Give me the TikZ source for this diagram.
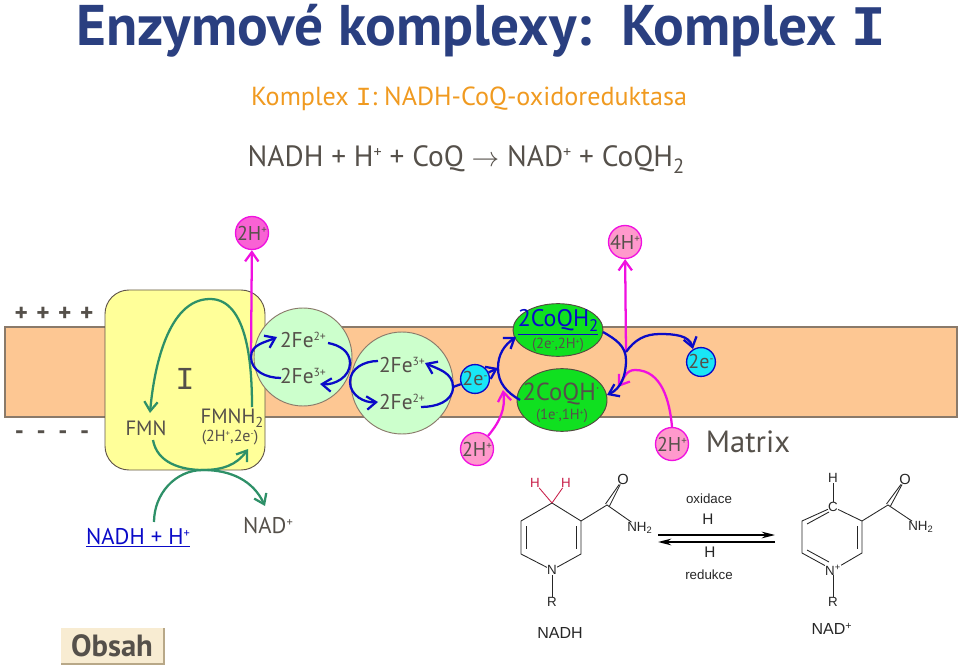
\documentclass[tikz,border=0pt]{standalone}
\usepackage{fontspec}
\setmainfont{PT Sans}
\newfontfamily\chemfont{Liberation Sans}
\newfontfamily\slabfont{Liberation Mono}
\usetikzlibrary{arrows.meta,shapes.geometric}
\newcommand{\ionup}[1]{\raisebox{.62ex}{\scalebox{.55}{#1}}}
\newcommand{\ionlow}[1]{\raisebox{-.45ex}{\scalebox{.7}{#1}}}
\definecolor{bandcol}{HTML}{FDC793}
\definecolor{bandline}{HTML}{8A7A6A}
\definecolor{boxcol}{HTML}{FFFF99}
\definecolor{fecol}{HTML}{CCFFCC}
\definecolor{inkcol}{HTML}{55504A}
\definecolor{titlecol}{HTML}{2A3F80}
\definecolor{orangecol}{HTML}{F09A20}
\definecolor{pathgreen}{HTML}{2E9068}
\definecolor{pathblue}{HTML}{0A0AC8}
\definecolor{pathpink}{HTML}{F010E0}
\definecolor{coqcol}{HTML}{10E020}
\definecolor{pinkcol}{HTML}{FF99CC}
\definecolor{cyancol}{HTML}{19E6F5}
\definecolor{hred}{HTML}{C8204A}
\definecolor{btncol}{HTML}{F8ECD2}
\definecolor{btnedge}{HTML}{B8A888}
\tikzset{
  ink/.style={text=inkcol,inner sep=0pt},
  protonnode/.style={circle,draw=pathpink,fill=pinkcol,line width=1pt,minimum size=22.5pt,inner sep=0pt,text=inkcol,font=\fontsize{15}{15}\selectfont},
  electronnode/.style={circle,draw=pathblue,fill=cyancol,line width=1pt,minimum size=21pt,inner sep=0pt,text=inkcol,font=\fontsize{15}{15}\selectfont},
  fenode/.style={circle,draw=bandline,fill=fecol,line width=.7pt,inner sep=0pt},
  coqnode/.style={ellipse,draw=bandline!60!black,fill=coqcol,line width=.7pt,inner sep=0pt},
  fetext/.style={ink,font=\fontsize{16}{16}\selectfont},
  greenpath/.style={draw=pathgreen,line width=1.7pt,-{Straight Barb[length=7pt,width=10pt,line width=1.7pt]}},
  bluepath/.style={draw=pathblue,line width=1.7pt,-{Straight Barb[length=7pt,width=10pt,line width=1.7pt]}},
  pinkpath/.style={draw=pathpink,line width=1.7pt,-{Straight Barb[length=7pt,width=10pt,line width=1.7pt]}},
  bond/.style={draw=black!85,line width=.65pt},
  chem/.style={font=\chemfont\fontsize{10}{10}\selectfont,inner sep=0pt,text=black!85}
}
\begin{document}
\begin{tikzpicture}[x=0.75pt,y=-0.75pt]
\useasboundingbox (0,0) rectangle (960,666);
\node (title) [anchor=base,text=titlecol,font=\bfseries\fontsize{43}{43}\selectfont,inner sep=0pt] at (481,46) {Enzymové komplexy:\ \ Komplex\ {\slabfont I}};
\node (subtitle) [anchor=base,text=orangecol,font=\fontsize{19.6}{19.6}\selectfont,inner sep=0pt] at (469,106) {Komplex {\slabfont I}: NADH-CoQ-oxidoreduktasa};
\node (equation) [anchor=base,ink,font=\fontsize{22}{22}\selectfont] at (466,167) {NADH + H\ionup{+} + CoQ $\rightarrow$ NAD\ionup{+} + CoQH\ionlow{2}};

\node (band) [draw=bandline,fill=bandcol,line width=.8pt,minimum width=714pt,minimum height=67.5pt,inner sep=0pt] at (481,372) {};
\node (complex) [draw=bandline!70!black,fill=boxcol,line width=.7pt,rounded corners=18pt,minimum width=120pt,minimum height=135pt,inner sep=0pt] at (185,380) {};
\node (feone) [fenode,minimum size=73.5pt] at (303,357) {};
\node (fetwo) [fenode,minimum size=76.5pt] at (402,383) {};

\node (coqa) [coqnode,minimum width=67.5pt,minimum height=39.5pt] at (558,330) {};
\node (coqb) [coqnode,minimum width=67.5pt,minimum height=47pt] at (562,400) {};

\node (plus) [ink,font=\bfseries\fontsize{19}{19}\selectfont] at (54,314) {+\,\,+\,\,+\,\,+};
\node (minus) [ink,font=\bfseries\fontsize{19}{19}\selectfont] at (52,435) {-\,\,\,-\,\,\,-\,\,\,-};

\node (roman) [ink,font=\slabfont\fontsize{24}{24}\selectfont] at (185,379) {I};
\node (fmn) [ink,font=\fontsize{15.5}{15.5}\selectfont] at (146,428) {FMN};
\node (fmnh) [ink,font=\fontsize{15.5}{15.5}\selectfont] at (232,418) {FMNH\ionlow{2}};
\node (fmnhsub) [ink,font=\fontsize{12}{12}\selectfont] at (230,438) {(2H\ionup{+},2e\ionup{-})};

\node (fea) [fetext] at (303,340) {2Fe\ionup{2+}};
\node (feb) [fetext] at (303,376) {2Fe\ionup{3+}};
\node (fec) [fetext] at (402,365) {2Fe\ionup{3+}};
\node (fed) [fetext] at (402,402) {2Fe\ionup{2+}};

\node (coqatext) [text=pathblue,inner sep=0pt,font=\fontsize{18}{18}\selectfont] at (558,322) {\underline{2CoQH\ionlow{2}}};
\node (coqasub) [ink,font=\fontsize{11}{11}\selectfont] at (558,345) {(2e\ionup{-},2H\ionup{+})};
\node (coqbtext) [ink,font=\fontsize{18.5}{18.5}\selectfont] at (561,394) {2CoQH\ionup{·}};
\node (coqbsub) [ink,font=\fontsize{11}{11}\selectfont] at (562,416) {(1e\ionup{-},1H\ionup{+})};

\node (ptop) [protonnode,fill=pinkcol!60!pathpink] at (252,233) {2H\ionup{+}};
\node (pfour) [protonnode] at (625,242) {4H\ionup{+}};
\node (pleft) [protonnode] at (477,449) {2H\ionup{+}};
\node (pright) [protonnode] at (672,444) {2H\ionup{+}};
\node (eleft) [electronnode] at (475,379) {2e\ionup{-}};
\node (eright) [electronnode] at (701,362) {2e\ionup{-}};
\node (matrix) [ink,font=\fontsize{23}{23}\selectfont] at (748,442) {Matrix};

\node (nadh) [text=pathblue,inner sep=0pt,font=\fontsize{17}{17}\selectfont] at (138,538) {\underline{NADH + H\ionup{+}}};
\node (nadplus) [ink,font=\fontsize{17}{17}\selectfont] at (268,526) {NAD\ionup{+}};

\coordinate (branch) at (251,357);
\coordinate (fmnhtop) at (252,407);
\coordinate (arcpeak) at (210,299);
\coordinate (fmnin) at (150,413);
\coordinate (fmnout) at (153,440);
\coordinate (arcbottom) at (203,470);
\coordinate (fmnhin) at (248,449);
\coordinate (nadhout) at (154,522);
\coordinate (nadin) at (265,506);
\coordinate (feaout) at (328,343);
\coordinate (feamid) at (350,363);
\coordinate (febin) at (320,384);
\coordinate (febout) at (281,378);
\coordinate (feain) at (277,337);
\coordinate (fecout) at (378,361);
\coordinate (midgap) at (350,382);
\coordinate (fedin) at (378,402);
\coordinate (fedout) at (421,407);
\coordinate (rightgap) at (453,387);
\coordinate (fecin) at (425,363);
\coordinate (coqbout) at (520,400);
\coordinate (coqgap) at (498,368);
\coordinate (coqain) at (516,337);
\coordinate (coqaout) at (603,332);
\coordinate (coqmid) at (626,360);
\coordinate (coqbin) at (607,395);
\coordinate (fork) at (626,352);
\coordinate (forkpeak) at (660,334);
\coordinate (erightin) at (693,349);
\coordinate (pinkin) at (503,390);
\coordinate (pinktop) at (635,370);
\coordinate (pinkend) at (618,387);

\draw[pinkpath] (branch) -- (ptop);
\draw[pinkpath] (fork) -- (pfour);
\draw[pinkpath] (pleft) to[out=50,in=-82] (pinkin);
\draw[pinkpath] (pright.north) to[out=95,in=0] (pinktop) to[out=180,in=55] (pinkend);

\draw[greenpath] (fmnhtop) to[out=90,in=0,looseness=.85] (arcpeak) to[out=180,in=85,looseness=.85] (fmnin);
\draw[greenpath] (fmnout) to[out=-80,in=180] (arcbottom) to[out=0,in=-125] (fmnhin);
\draw[greenpath] (nadhout) to[out=90,in=180] (arcbottom) to[out=0,in=115] (nadin);

\draw[bluepath] (febout) to[out=180,in=-90,looseness=1] (branch) to[out=90,in=205] (feain);
\draw[bluepath] (feaout) to[out=-10,in=90] (feamid) to[out=-90,in=-5] (febin);
\draw[bluepath] (fecout) to[out=180,in=90] (midgap) to[out=-90,in=185] (fedin);
\draw[bluepath] (fedout) to[out=0,in=-90] (rightgap) to[out=90,in=-25] (fecin);
\draw[draw=pathblue,line width=1.7pt] (rightgap) -- (eleft);
\draw[bluepath] (eleft) -- (coqgap);
\draw[bluepath] (coqbout) to[out=150,in=-90] (coqgap) to[out=90,in=215] (coqain);
\draw[bluepath] (coqaout) to[out=-30,in=90] (coqmid) to[out=-90,in=25] (coqbin);
\draw[bluepath] (fork) to[out=55,in=180] (forkpeak) to[out=0,in=105] (erightin);

\coordinate (leftca) at (552,503);
\coordinate (leftcb) at (581,521);
\coordinate (leftcc) at (581,554);
\coordinate (leftcd) at (521,554);
\coordinate (leftce) at (521,521);
\coordinate (leftco) at (607,505);
\node (leftn) [chem] at (552,570) {N};
\node (leftr) [chem] at (552,602) {R};
\node (lefth) [chem,text=hred] at (535,483) {H};
\node (lefthb) [chem,text=hred] at (566,483) {H};
\node (lefto) [chem,font=\chemfont\fontsize{11}{11}\selectfont] at (623,479) {O};
\node (leftnh) [chem,anchor=west] at (627,528) {NH\textsubscript{2}};
\node (leftname) [chem,font=\chemfont\fontsize{12}{12}\selectfont] at (560,633) {NADH};
\draw[bond] (leftca) -- (leftcb) -- (leftcc) -- (leftn) -- (leftcd) -- (leftce) -- (leftca);
\draw[bond] (leftcb)++(-5,5) -- ++(0,23);
\draw[bond] (leftce)++(5,5) -- ++(0,23);
\draw[bond] (leftcb) -- (leftco) -- (leftnh);
\draw[bond] (leftn) -- (leftr);
\draw[bond] (leftco)++(-1.5,-1) -- (lefto);
\draw[bond] (leftco)++(2.5,1) -- (lefto);
\draw[bond,draw=hred] (leftca) -- (lefth);
\draw[bond,draw=hred] (leftca) -- (lefthb);

\node (oxid) [chem] at (709,499) {oxidace};
\node (hup) [chem,font=\chemfont\fontsize{11.5}{11.5}\selectfont] at (708,519) {H};
\node (hdown) [chem,font=\chemfont\fontsize{11.5}{11.5}\selectfont] at (710,552) {H};
\node (red) [chem] at (709,575) {redukce};
\coordinate (arrowa) at (658,535);
\coordinate (arrowb) at (775,535);
\coordinate (arrowc) at (775,542);
\coordinate (arrowd) at (658,542);
\draw[line width=1.2pt,-{Stealth[length=10pt,width=5pt]}] (arrowa) -- (arrowb);
\draw[line width=1.2pt,-{Stealth[length=10pt,width=5pt]}] (arrowc) -- (arrowd);

\node (rightc) [chem] at (833,507) {C};
\coordinate (rightcb) at (862,521);
\coordinate (rightcc) at (862,553);
\coordinate (rightcd) at (802,553);
\coordinate (rightce) at (802,521);
\coordinate (rightco) at (888,505);
\node (rightn) [chem] at (833,570) {N\textsuperscript{+}};
\node (rightr) [chem] at (833,602) {R};
\node (righth) [chem] at (833,478) {H};
\node (righto) [chem,font=\chemfont\fontsize{11}{11}\selectfont] at (905,479) {O};
\node (rightnh) [chem,anchor=west] at (908,527) {NH\textsubscript{2}};
\node (rightname) [chem,font=\chemfont\fontsize{12}{12}\selectfont] at (832,629) {NAD\textsuperscript{+}};
\draw[bond] (rightc) -- (rightcb) -- (rightcc) -- (rightn) -- (rightcd) -- (rightce) -- (rightc);
\draw[bond] (rightcb)++(-5,5) -- ++(0,23);
\draw[bond] (rightce)++(5,3) -- ++(22,-12);
\draw[bond] (rightcd)++(5,-3) -- ++(22,12);
\draw[bond] (rightcb) -- (rightco) -- (rightnh);
\draw[bond] (rightn) -- (rightr);
\draw[bond] (rightc) -- (righth);
\draw[bond] (rightco)++(-1.5,-1) -- (righto);
\draw[bond] (rightco)++(2.5,1) -- (righto);

\node (obsahshadow) [fill=btnedge,minimum width=78pt,minimum height=28pt,inner sep=0pt] at (113,646.5) {};
\node (obsah) [fill=btncol,minimum width=76pt,minimum height=26pt,inner sep=0pt,text=inkcol,font=\bfseries\fontsize{23}{23}\selectfont] at (112,645.5) {Obsah};
\end{tikzpicture}
\end{document}
